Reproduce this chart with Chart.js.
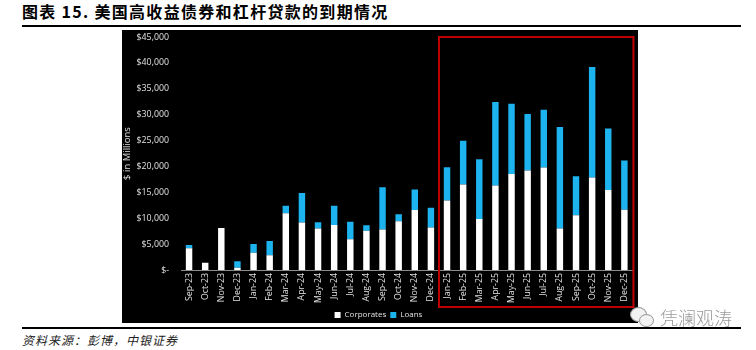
<!DOCTYPE html>
<html>
<head>
<meta charset="utf-8">
<script src="https://cdn.jsdelivr.net/npm/chart.js@4.4.1/dist/chart.umd.min.js"></script>
<style>
  html, body { margin: 0; padding: 0; background: #fff; }
  body { width: 756px; height: 350px; position: relative; overflow: hidden; }
  .title {
    position: absolute; left: 22px; top: 1px;
    font: bold 16px "Noto Sans CJK SC", sans-serif; letter-spacing: 1.3px;
    line-height: 20px; color: #000; white-space: nowrap;
  }
  .rule { position: absolute; left: 22px; width: 719px; background: #000; }
  .panel { position: absolute; left: 122px; top: 30px; width: 516px; height: 293px; background: #000; }
  .plot { position: absolute; left: 122px; top: 30px; width: 516px; height: 299px; }
  .source {
    position: absolute; left: 22px; top: 331px;
    font: italic 12px "Noto Sans CJK SC", sans-serif; letter-spacing: 1px;
    color: #222; white-space: nowrap;
  }
  .mark {
    position: absolute; left: 660px; top: 306px;
    font: 300 18px "Noto Sans CJK SC", sans-serif; color: #9a9a9a;
    line-height: 22px; white-space: nowrap;
  }
  .bubble { position: absolute; border-radius: 50%; background: #f2f2f2; border: 1px solid #9a9a9a; }
</style>
</head>
<body>
<div class="title">图表 15. 美国高收益债券和杠杆贷款的到期情况</div>
<div class="rule" style="top:25px;height:2px"></div>
<div class="panel"></div>
<div class="plot"><canvas id="maturityChart"></canvas></div>
<div class="rule" style="top:327px;height:1.5px"></div>
<div class="source">资料来源：彭博，中银证券</div>
<div class="bubble" style="left:630px;top:307px;width:15px;height:13px"></div>
<div class="bubble" style="left:639px;top:314px;width:13px;height:11px"></div>
<div class="mark">凭澜观涛</div>
<script>
// maturity schedule, $ in millions
const months = [
  'Sep-23', 'Oct-23', 'Nov-23', 'Dec-23', 'Jan-24', 'Feb-24', 'Mar-24', 'Apr-24',
  'May-24', 'Jun-24', 'Jul-24', 'Aug-24', 'Sep-24', 'Oct-24', 'Nov-24', 'Dec-24',
  'Jan-25', 'Feb-25', 'Mar-25', 'Apr-25', 'May-25', 'Jun-25', 'Jul-25', 'Aug-25',
  'Sep-25', 'Oct-25', 'Nov-25', 'Dec-25'
];
const corporates = [
  4200, 1400, 8100, 450, 3350, 2850, 10950, 9150,
  8000, 8700, 5950, 7600, 7800, 9400, 11600, 8200,
  13400, 16500, 9850, 16300, 18550, 19200, 19800, 8000,
  10550, 17850, 15450, 11650
];
const loans = [
  650, 0, 0, 1250, 1650, 2750, 1450, 5700,
  1200, 3700, 3350, 1050, 8200, 1350, 3950, 3800,
  6450, 8450, 11550, 16150, 13550, 10950, 11150, 19600,
  7550, 21350, 11900, 9500
];
const yTicks = [0, 5000, 10000, 15000, 20000, 25000, 30000, 35000, 40000, 45000];
const highlightFrom = 'Jan-25';

const textColor = '#e0e0e0';
const tickFont = { family: 'Open Sans', size: 8.8 };

// red frame around the 2025 months
const highlightBox = {
  id: 'highlightBox',
  afterDraw(chart) {
    const x = chart.scales.x, y = chart.scales.y;
    const i = months.indexOf(highlightFrom);
    const left = x.getPixelForValue(i - 0.5);
    const right = x.right + 1;
    const top = y.getPixelForValue(yTicks[yTicks.length - 1]);
    const bottom = x.bottom;
    const ctx = chart.ctx;
    ctx.save();
    ctx.strokeStyle = '#c00000';
    ctx.lineWidth = 2;
    ctx.strokeRect(left, top, right - left, bottom - top);
    ctx.restore();
  }
};

const ctx = document.getElementById('maturityChart').getContext('2d');
const maturityChart = new Chart(ctx, {
  type: 'bar',
  data: {
    labels: months,
    datasets: [
      {
        label: 'Corporates',
        data: corporates,
        backgroundColor: '#ffffff',
        categoryPercentage: 0.8,
        barPercentage: 0.5
      },
      {
        label: 'Loans',
        data: loans,
        backgroundColor: '#1db3ee',
        categoryPercentage: 0.8,
        barPercentage: 0.5
      }
    ]
  },
  options: {
    responsive: true,
    maintainAspectRatio: false,
    animation: false,
    layout: { padding: { top: 0, right: 3, bottom: 0, left: 0 } },
    plugins: {
      legend: {
        position: 'bottom',
        labels: {
          color: textColor,
          font: { family: 'Open Sans', size: 8 },
          boxWidth: 6,
          boxHeight: 6,
          padding: 4
        }
      },
      tooltip: { enabled: false }
    },
    scales: {
      x: {
        stacked: true,
        grid: { display: false, drawTicks: false },
        border: { display: true, color: '#8c8c8c', width: 1 },
        ticks: {
          color: textColor,
          font: tickFont,
          minRotation: 90,
          maxRotation: 90,
          autoSkip: false,
          padding: 3
        },
        afterFit(scale) { scale.height = 37; }
      },
      y: {
        stacked: true,
        min: 0,
        max: 45000,
        grid: { display: false, drawTicks: false },
        border: { display: false },
        afterBuildTicks(scale) { scale.ticks = yTicks.map(v => ({ value: v })); },
        ticks: {
          color: textColor,
          font: tickFont,
          padding: 12,
          callback: v => v === 0 ? '$-' : '$' + v.toLocaleString('en-US')
        },
        title: {
          display: true,
          text: '$ in Millions',
          color: textColor,
          font: { family: 'Open Sans', size: 9.5 },
          padding: 0
        },
        afterFit(scale) {
          scale.width = 59;
          scale.paddingTop = 7;
          scale.paddingBottom = 0;
        }
      }
    }
  },
  plugins: [highlightBox]
});
</script>
</body>
</html>
